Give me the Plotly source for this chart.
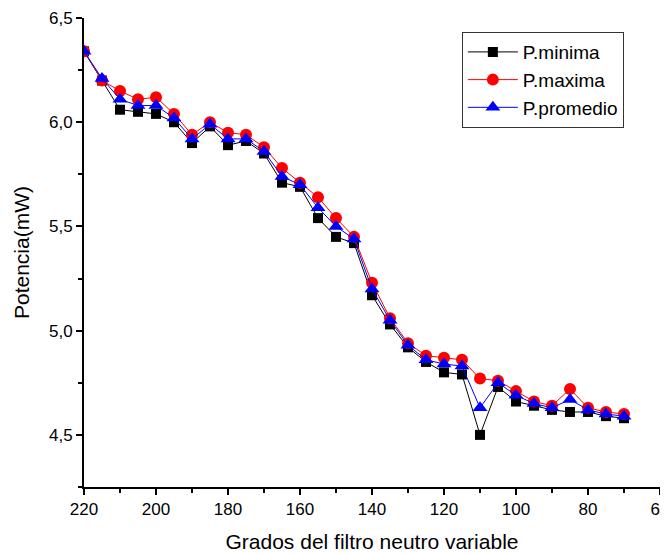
import plotly.graph_objects as go

grados = [220, 215, 210, 205, 200, 195, 190, 185, 180, 175, 170, 165, 160, 155, 150,
          145, 140, 135, 130, 125, 120, 115, 110, 105, 100, 95, 90, 85, 80, 75, 70]

p_minima = [6.34, 6.20, 6.06, 6.05, 6.04, 6.00, 5.90, 5.98, 5.89, 5.91, 5.85, 5.71, 5.69, 5.54, 5.45,
            5.42, 5.17, 5.03, 4.92, 4.85, 4.80, 4.79, 4.50, 4.73, 4.66, 4.64, 4.62, 4.61, 4.61, 4.59, 4.58]

p_maxima = [6.34, 6.20, 6.15, 6.11, 6.12, 6.04, 5.94, 6.00, 5.95, 5.94, 5.88, 5.78, 5.71, 5.64, 5.54,
            5.45, 5.23, 5.06, 4.94, 4.88, 4.87, 4.86, 4.77, 4.76, 4.71, 4.66, 4.64, 4.72, 4.63, 4.61, 4.60]

p_promedio = [6.34, 6.21, 6.11, 6.08, 6.08, 6.02, 5.92, 5.99, 5.92, 5.92, 5.86, 5.74, 5.70, 5.59, 5.50,
              5.44, 5.20, 5.05, 4.93, 4.86, 4.84, 4.83, 4.63, 4.75, 4.69, 4.65, 4.63, 4.67, 4.62, 4.60, 4.59]

series = [
    ("P.minima", p_minima, "black", "square", 10),
    ("P.maxima", p_maxima, "red", "circle", 12),
    ("P.promedio", p_promedio, "blue", "triangle-up", 13),
]

fig = go.Figure()
for name, vals, col, sym, sz in series:
    fig.add_trace(go.Scatter(
        x=grados, y=vals, name=name, mode="lines+markers",
        line=dict(color=col, width=1),
        marker=dict(color=col, symbol=sym, size=sz, line=dict(width=0)),
    ))

font_family = "Liberation Sans, Arial, sans-serif"
# page body has an 8px default margin; figure sized to fill the rest of the window
fig.update_layout(
    width=660, height=545,
    margin=dict(l=76, r=8, t=10, b=66),
    paper_bgcolor="white", plot_bgcolor="white",
    separators=", ",
    font=dict(family=font_family, size=17, color="black"),
    showlegend=True,
    legend=dict(
        x=0.656, y=0.97, xanchor="left", yanchor="top",
        bordercolor="#333333", borderwidth=1, bgcolor="white",
        font=dict(size=19, family=font_family, color="black"),
        itemwidth=50, tracegroupgap=0,
    ),
)
fig.update_xaxes(
    range=[220, 60], tickmode="linear", tick0=60, dtick=20,
    showline=True, linecolor="black", linewidth=2,
    ticks="outside", ticklen=6, tickwidth=2, tickcolor="black",
    minor=dict(dtick=10, tick0=60, ticks="outside", ticklen=4, tickwidth=1.5, tickcolor="black"),
    showgrid=False, zeroline=False, automargin=False, ticklabeloverflow="allow",
    tickfont=dict(size=17),
    title=dict(text="Grados del filtro neutro variable", font=dict(size=21), standoff=16),
)
fig.update_yaxes(
    range=[4.25, 6.5], tickmode="linear", tick0=4.5, dtick=0.5, tickformat=".1f",
    showline=True, linecolor="black", linewidth=2,
    ticks="outside", ticklen=6, tickwidth=2, tickcolor="black",
    minor=dict(dtick=0.25, tick0=4.25, ticks="outside", ticklen=4, tickwidth=1.5, tickcolor="black"),
    showgrid=False, zeroline=False, automargin=False, ticklabeloverflow="allow",
    tickfont=dict(size=17),
    title=dict(text="Potencia(mW)", font=dict(size=21), standoff=14),
)

fig.write_html("out.html")
